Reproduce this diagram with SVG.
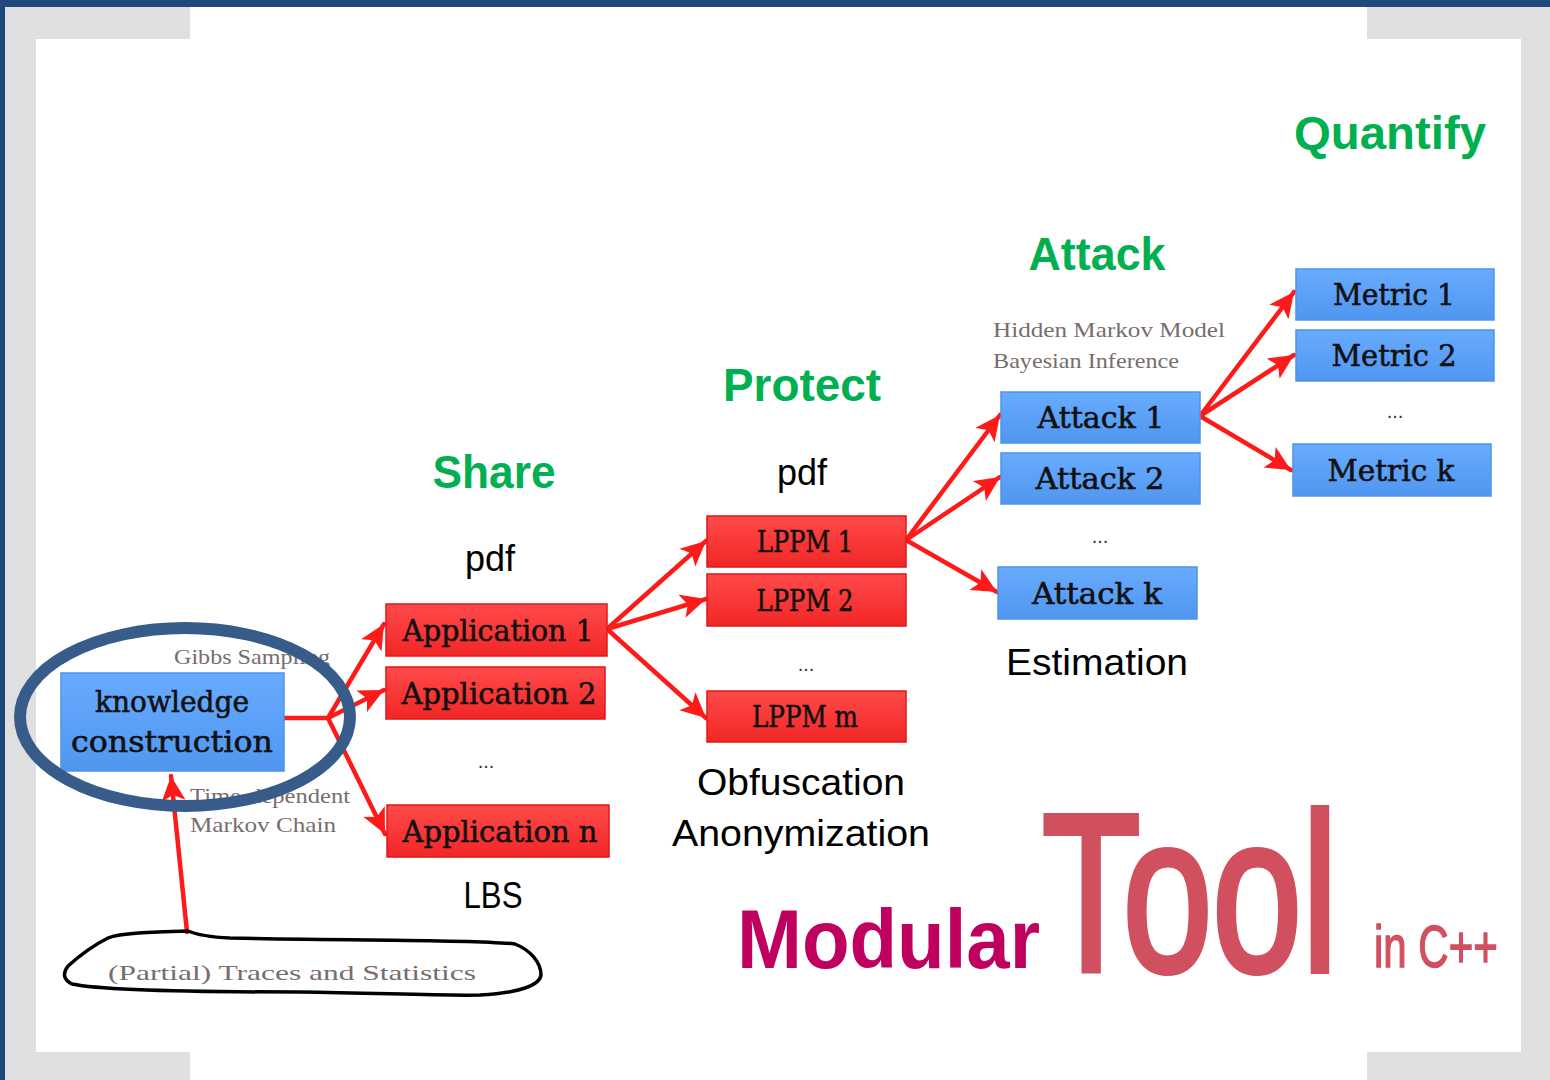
<svg xmlns="http://www.w3.org/2000/svg" width="1550" height="1080" viewBox="0 0 1550 1080">
  <defs>
    <linearGradient id="blueFill" x1="0" y1="0" x2="0" y2="1">
      <stop offset="0" stop-color="#68acff"/>
      <stop offset="1" stop-color="#5096f0"/>
    </linearGradient>
    <linearGradient id="redFill" x1="0" y1="0" x2="0" y2="1">
      <stop offset="0" stop-color="#ff4a4a"/>
      <stop offset="1" stop-color="#f22626"/>
    </linearGradient>
    <marker id="arrow" markerUnits="userSpaceOnUse" markerWidth="28" markerHeight="26" refX="25" refY="12" orient="auto">
      <path d="M0,0 L25,12 L0,24 L6,12 z" fill="#ff1a1a"/>
    </marker>
    <style>
      .blue { fill: url(#blueFill); stroke: #4f93ea; stroke-width: 1.5; }
      .red { fill: url(#redFill); stroke: #e01818; stroke-width: 1.5; }
      .lbl { font-family: "DejaVu Serif", "Liberation Serif", serif; font-size: 30px; fill: #111; stroke: #111; stroke-width: 0.6; text-anchor: middle; }
      .head { font-family: "Liberation Sans", Arial, sans-serif; font-weight: bold; font-size: 46px; fill: #00b050; text-anchor: middle; }
      .cap { font-family: "Liberation Sans", Arial, sans-serif; font-size: 36px; fill: #000; text-anchor: middle; }
      .note { font-family: "Liberation Serif", "DejaVu Serif", serif; font-size: 22px; fill: #776d6d; }
      .dots { font-family: "Liberation Sans", Arial, sans-serif; font-size: 20px; fill: #333; text-anchor: middle; }
      .link { stroke: #ff1a1a; stroke-width: 4.5; fill: none; stroke-linecap: round; }
      .tool { font-family: "Liberation Sans", Arial, sans-serif; fill: #d1505f; stroke: #d1505f; }
    </style>
  </defs>

  <!-- page background and frame -->
  <rect width="1550" height="1080" fill="#ffffff"/>
  <g id="frame" fill="#dfdfdf">
    <path d="M5,7 H190 V39 H36 V1080 H5 z"/>
    <path d="M1367,7 H1550 V1080 H1521 V39 H1367 z"/>
    <path d="M5,1052 H190 V1080 H5 z"/>
    <path d="M1367,1052 H1550 V1080 H1367 z"/>
  </g>
  <rect x="0" y="0" width="1550" height="7" fill="#1f497d"/>
  <rect x="0" y="0" width="5" height="1080" fill="#1f497d"/>

  <!-- stage headings -->
  <g id="headings">
    <text class="head" x="1390" y="149" textLength="192" lengthAdjust="spacingAndGlyphs">Quantify</text>
    <text class="head" x="1097" y="270" textLength="137" lengthAdjust="spacingAndGlyphs">Attack</text>
    <text class="head" x="802" y="401" textLength="158" lengthAdjust="spacingAndGlyphs">Protect</text>
    <text class="head" x="494" y="488" textLength="123" lengthAdjust="spacingAndGlyphs">Share</text>
  </g>

  <!-- captions -->
  <g id="captions">
    <text class="cap" x="802" y="485">pdf</text>
    <text class="cap" x="490" y="571">pdf</text>
    <text class="cap" x="493" y="908" textLength="59" lengthAdjust="spacingAndGlyphs">LBS</text>
    <text class="cap" x="801" y="795" textLength="208" lengthAdjust="spacingAndGlyphs">Obfuscation</text>
    <text class="cap" x="801" y="846" textLength="258" lengthAdjust="spacingAndGlyphs">Anonymization</text>
    <text class="cap" x="1097" y="675" textLength="182" lengthAdjust="spacingAndGlyphs">Estimation</text>
  </g>

  <!-- method notes -->
  <g id="notes">
    <text class="note" x="174" y="664" textLength="156" lengthAdjust="spacingAndGlyphs">Gibbs Sampling</text>
    <text class="note" x="190" y="803" textLength="160" lengthAdjust="spacingAndGlyphs">Time-dependent</text>
    <text class="note" x="190" y="832" textLength="146" lengthAdjust="spacingAndGlyphs">Markov Chain</text>
    <text class="note" x="993" y="337" textLength="232" lengthAdjust="spacingAndGlyphs">Hidden Markov Model</text>
    <text class="note" x="993" y="368" textLength="186" lengthAdjust="spacingAndGlyphs">Bayesian Inference</text>
  </g>

  <!-- connectors -->
  <g id="connectors">
    <path class="link" d="M284,718 H328"/>
    <path class="link" d="M328,718 L384,624" marker-end="url(#arrow)"/>
    <path class="link" d="M328,718 L384,690" marker-end="url(#arrow)"/>
    <path class="link" d="M328,718 L385,834" marker-end="url(#arrow)"/>
    <path class="link" d="M187,932 L171,776" marker-end="url(#arrow)"/>
    <path class="link" d="M607,629 L706,541" marker-end="url(#arrow)"/>
    <path class="link" d="M607,629 L706,599" marker-end="url(#arrow)"/>
    <path class="link" d="M607,629 L706,718" marker-end="url(#arrow)"/>
    <path class="link" d="M906,540 L1000,415" marker-end="url(#arrow)"/>
    <path class="link" d="M906,540 L1000,477" marker-end="url(#arrow)"/>
    <path class="link" d="M906,540 L997,592" marker-end="url(#arrow)"/>
    <path class="link" d="M1200,416 L1294,292" marker-end="url(#arrow)"/>
    <path class="link" d="M1200,416 L1294,355" marker-end="url(#arrow)"/>
    <path class="link" d="M1200,416 L1291,470" marker-end="url(#arrow)"/>
  </g>

  <!-- knowledge construction -->
  <g id="knowledge">
    <rect class="blue" x="61" y="673" width="223" height="98"/>
    <text class="lbl" x="172" y="712" font-size="33" textLength="154" lengthAdjust="spacingAndGlyphs">knowledge</text>
    <text class="lbl" x="172" y="752" font-size="33" textLength="202" lengthAdjust="spacingAndGlyphs">construction</text>
  </g>
  <ellipse id="focus" cx="185" cy="717" rx="165" ry="89" fill="none" stroke="#385c8a" stroke-width="12"/>

  <!-- input traces -->
  <g id="traces">
    <path d="M188,931 C150,932 120,933 108,938 C92,946 78,957 68,966 C62,974 64,980 72,984 C100,990 200,992 300,992 C380,993 440,996 480,995 C520,993 540,985 541,975 C541,962 530,950 515,944 C470,939 350,941 230,938 C210,937 195,934 188,931 z" fill="none" stroke="#000" stroke-width="3.5" stroke-linejoin="round"/>
    <text class="note" x="108" y="980" font-size="26" textLength="368" lengthAdjust="spacingAndGlyphs">(Partial) Traces and Statistics</text>
  </g>

  <!-- share: applications -->
  <g id="app1">
    <rect class="red" x="386" y="604" width="221" height="52"/>
    <text class="lbl" x="498" y="641" textLength="191" lengthAdjust="spacingAndGlyphs">Application 1</text>
  </g>
  <g id="app2">
    <rect class="red" x="386" y="667" width="219" height="52"/>
    <text class="lbl" x="499" y="704" textLength="195" lengthAdjust="spacingAndGlyphs">Application 2</text>
  </g>
  <text class="dots" x="486" y="768">...</text>
  <g id="appn">
    <rect class="red" x="387" y="805" width="222" height="52"/>
    <text class="lbl" x="500" y="842" textLength="195" lengthAdjust="spacingAndGlyphs">Application n</text>
  </g>

  <!-- protect: LPPMs -->
  <g id="lppm1">
    <rect class="red" x="707" y="516" width="199" height="51"/>
    <text class="lbl" x="805" y="552" textLength="96" lengthAdjust="spacingAndGlyphs">LPPM 1</text>
  </g>
  <g id="lppm2">
    <rect class="red" x="707" y="574" width="199" height="52"/>
    <text class="lbl" x="805" y="611" textLength="97" lengthAdjust="spacingAndGlyphs">LPPM 2</text>
  </g>
  <text class="dots" x="806" y="671">...</text>
  <g id="lppmm">
    <rect class="red" x="707" y="691" width="199" height="51"/>
    <text class="lbl" x="805" y="727" textLength="106" lengthAdjust="spacingAndGlyphs">LPPM m</text>
  </g>

  <!-- attack -->
  <g id="attack1">
    <rect class="blue" x="1001" y="392" width="199" height="51"/>
    <text class="lbl" x="1101" y="428" textLength="127" lengthAdjust="spacingAndGlyphs">Attack 1</text>
  </g>
  <g id="attack2">
    <rect class="blue" x="1001" y="453" width="199" height="51"/>
    <text class="lbl" x="1100" y="489" textLength="129" lengthAdjust="spacingAndGlyphs">Attack 2</text>
  </g>
  <text class="dots" x="1100" y="543">...</text>
  <g id="attackk">
    <rect class="blue" x="998" y="567" width="199" height="52"/>
    <text class="lbl" x="1097" y="604" textLength="130" lengthAdjust="spacingAndGlyphs">Attack k</text>
  </g>

  <!-- quantify: metrics -->
  <g id="metric1">
    <rect class="blue" x="1296" y="269" width="198" height="51"/>
    <text class="lbl" x="1394" y="305" textLength="122" lengthAdjust="spacingAndGlyphs">Metric 1</text>
  </g>
  <g id="metric2">
    <rect class="blue" x="1296" y="330" width="198" height="51"/>
    <text class="lbl" x="1394" y="366" textLength="125" lengthAdjust="spacingAndGlyphs">Metric 2</text>
  </g>
  <text class="dots" x="1395" y="418">...</text>
  <g id="metrick">
    <rect class="blue" x="1293" y="444" width="198" height="52"/>
    <text class="lbl" x="1391" y="481" textLength="127" lengthAdjust="spacingAndGlyphs">Metric k</text>
  </g>

  <!-- title: condensed "Tool" is drawn with a horizontal scale -->
  <g id="title">
    <text x="737" y="968" font-family="'Liberation Sans', Arial, sans-serif" font-weight="bold" font-size="84" fill="#c0005f" textLength="303" lengthAdjust="spacingAndGlyphs">Modular</text>
    <text class="tool" transform="translate(1042,971) scale(0.72,1)" x="0" y="0" font-size="224" stroke-width="6">Tool</text>
    <text class="tool" transform="translate(1374,967) scale(0.7,1)" x="0" y="0" font-size="60" stroke-width="1.5">in C++</text>
  </g>
</svg>
